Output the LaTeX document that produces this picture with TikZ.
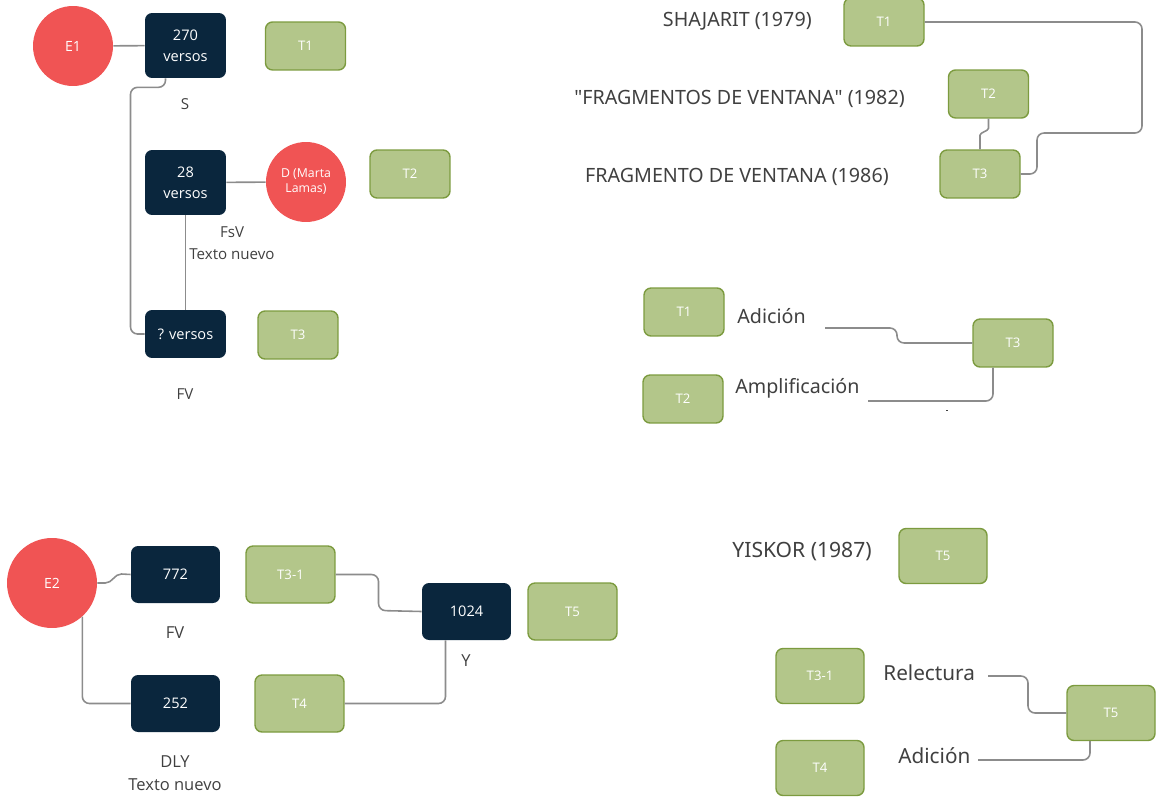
\documentclass[tikz,border=0pt]{standalone}
\usepackage{fontspec}
\setmainfont{Open Sans}
\newfontfamily\titulofont{Noto Sans}
\usetikzlibrary{positioning}
\definecolor{rojo}{HTML}{F05454}
\definecolor{marino}{HTML}{0A263D}
\definecolor{verde}{HTML}{B3C68A}
\definecolor{verdeborde}{HTML}{7C9B3F}
\definecolor{gris}{HTML}{8C8C8C}
\definecolor{texto}{HTML}{404040}

\begin{document}
\begin{tikzpicture}[x=0.02cm,y=-0.02cm,
    redondo/.style={circle,fill=rojo,text=white,minimum size=1.6cm,inner sep=0pt,align=center,font=\fontsize{7}{8.5}\selectfont},
    oscuro/.style={rectangle,rounded corners=4pt,fill=marino,text=white,minimum width=1.62cm,minimum height=1.3cm,align=center,font=\fontsize{8.3}{12}\selectfont},
    claro/.style={rectangle,rounded corners=4pt,fill=verde,draw=verdeborde,line width=0.8pt,text=white,minimum width=1.6cm,minimum height=0.96cm,font=\fontsize{7.5}{9}\selectfont},
    grande/.style={minimum width=1.78cm,minimum height=1.14cm},
    etiqueta/.style={text=texto,align=center,font=\fontsize{8.6}{12.5}\selectfont},
    titulo/.style={text=texto,inner sep=0pt,font=\titulofont\fontsize{11.2}{13}\selectfont},
    enlace/.style={draw=gris,line width=0.9pt,rounded corners=4pt}
  ]
  \useasboundingbox (0,0) rectangle (1162,797);

  % Esquema E1
  \node[redondo,font=\fontsize{8}{9}\selectfont] (e1) at (73,46) {E1};
  \node[oscuro] (v270) at (185.5,45.5) {270\\versos};
  \node[claro] (a1) at (305.5,46) {T1};
  \node[etiqueta] (ls) at (185,104) {S};
  \node[oscuro] (v28) at (185.5,182.5) {28\\versos};
  \node[redondo] (dml) at (306,182) {D (Marta\\Lamas)};
  \node[claro] (a2) at (410,174) {T2};
  \node[etiqueta] (lfsv) at (232,243) {FsV\\Texto nuevo};
  \node[oscuro,minimum height=0.96cm] (vq) at (185.5,334) {? versos};
  \node[claro] (a3) at (298,335) {T3};
  \node[etiqueta] (lfv) at (185,394) {FV};
  \draw[enlace] (e1) -- (v270);
  \draw[enlace] ([xshift=-0.4cm]v270.south) -- ++(0,9) -- ++(-35,0) |- (vq.west);
  \draw[enlace] (v28) -- (dml);
  \draw[enlace] (v28) -- (vq);

  % Fechas de los textos
  \node[titulo,anchor=east] (sh) at (812,21) {SHAJARIT (1979)};
  \node[titulo,anchor=east] (fvs) at (905,99) {\textquotedbl FRAGMENTOS DE VENTANA\textquotedbl{} (1982)};
  \node[titulo,anchor=east] (fv1) at (889,177) {FRAGMENTO DE VENTANA (1986)};
  \node[claro] (b1) at (884,22) {T1};
  \node[claro] (b2) at (988.5,94) {T2};
  \node[claro] (b3) at (980,174) {T3};
  \draw[enlace] (b1) -- ++(258,0) |- ++(-105,111) |- (b3.east);
  \draw[enlace,rounded corners=2pt] (b2.south) -- ++(0,6) to[out=-90,in=90] ++(-8.5,14) -- (b3.north);

  % Adicion y amplificacion
  \node[claro] (c1) at (684,312) {T1};
  \node[titulo,anchor=west] (lad) at (737,316) {Adición};
  \node[claro] (c3) at (1013,343) {T3};
  \node[claro] (c2) at (683,399) {T2};
  \node[titulo,anchor=west] (lam) at (735,388) {Amplificación};
  \coordinate (cad) at (825,328);
  \coordinate (cam) at (868,401);
  \draw[enlace] (cad) -- ++(72,0) |- (c3.west);
  \draw[enlace] (cam) -| ([xshift=-0.4cm]c3.south);
  \fill[texto] (945.5,409.5) rectangle (948,411);

  % Esquema E2
  \node[redondo,minimum size=1.8cm,font=\fontsize{8}{9}\selectfont] (e2) at (52,583) {E2};
  \node[oscuro,grande] (n772) at (175.5,574.5) {772};
  \node[etiqueta,font=\fontsize{9.4}{13}\selectfont] (lfv2) at (175,633) {FV};
  \node[oscuro,grande] (n252) at (175.5,703.5) {252};
  \node[etiqueta,font=\fontsize{9.4}{13}\selectfont] (ldly) at (175,773) {DLY\\Texto nuevo};
  \node[claro,grande] (d31) at (290.5,574.5) {T3-1};
  \node[claro,grande] (d4) at (299.5,703.5) {T4};
  \node[oscuro,grande] (n1024) at (466.5,611.5) {1024};
  \node[claro,grande] (d5) at (572.5,611.5) {T5};
  \node[etiqueta,font=\fontsize{9.4}{13}\selectfont] (ly) at (466,661) {Y};
  \draw[draw=gris,line width=0.9pt] (e2.east) -- ++(8,0) to[out=0,in=180] ++(16,-9) -- (n772.west);
  \draw[enlace] (e2.-48) |- (n252.west);
  \draw[enlace] (d31) -| ++(88,36) -- (n1024.west);
  \draw[enlace] (d4) -| ([xshift=-0.42cm]n1024.south);

  % Yiskor
  \node[titulo,font=\titulofont\fontsize{12}{14}\selectfont,anchor=east] (yi) at (872,552) {YISKOR (1987)};
  \node[claro,minimum width=1.76cm,minimum height=1.1cm] (f5) at (943,556) {T5};
  \node[claro,minimum width=1.76cm,minimum height=1.1cm] (f31) at (820,676) {T3-1};
  \node[titulo,font=\titulofont\fontsize{11.8}{14}\selectfont,anchor=west] (lre) at (883,673) {Relectura};
  \node[claro,minimum width=1.76cm,minimum height=1.1cm] (f5b) at (1111,713) {T5};
  \node[claro,minimum width=1.76cm,minimum height=1.1cm] (f4) at (820,768) {T4};
  \node[titulo,font=\titulofont\fontsize{11.8}{14}\selectfont,anchor=west] (lad2) at (898,756) {Adición};
  \coordinate (fre) at (988,676);
  \coordinate (fad) at (978,760);
  \draw[enlace] (fre) -- ++(40,0) |- (f5b.west);
  \draw[enlace] (fad) -| ([xshift=-0.42cm]f5b.south);
\end{tikzpicture}
\end{document}
